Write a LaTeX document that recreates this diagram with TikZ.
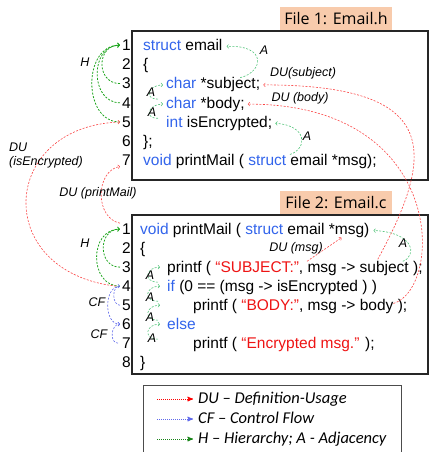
\documentclass[tikz,border=0pt]{standalone}
\usepackage{fontspec}
\setmainfont{Liberation Sans}
\newfontfamily\legendfont{Carlito}
\newfontfamily\tabfont{Open Sans}
\usetikzlibrary{arrows}
\definecolor{kwblue}{RGB}{50,100,235}
\definecolor{strred}{RGB}{238,20,20}
\definecolor{dured}{RGB}{250,70,70}
\definecolor{cfblue}{RGB}{95,105,235}
\definecolor{hgreen}{RGB}{30,165,30}
\definecolor{agreen}{RGB}{80,195,120}
\definecolor{tabpeach}{RGB}{248,203,172}
\newcommand{\kw}[1]{\textcolor{kwblue}{#1}}
\newcommand{\cstr}[1]{\textcolor{strred}{#1}}
\newcommand{\codesize}{\fontsize{15.5}{18}\selectfont}

\begin{document}
\begin{tikzpicture}[x=1pt,y=-1pt,>=stealth',
  lnum/.style={anchor=base east,font=\codesize,inner sep=2pt},
  code/.style={anchor=base west,font=\codesize,inner sep=0pt,text height=11pt,text depth=3pt},
  lab/.style={font=\fontsize{12.5}{14}\selectfont\itshape,inner sep=0pt},
  filebox/.style={draw=black!85,line width=1.1pt},
  tab/.style={fill=tabpeach,font=\tabfont\fontsize{16}{18}\selectfont,minimum width=112pt,minimum height=23pt,inner sep=0pt},
  du/.style={-to,dured,dash pattern=on 2pt off 1.5pt,line width=0.6pt},
  cf/.style={du,cfblue},
  hier/.style={du,hgreen,line width=0.8pt},
  adj/.style={du,agreen},
  leg/.style={anchor=west,font=\legendfont\itshape\fontsize{16.5}{19}\selectfont,inner sep=0pt,text height=11pt,text depth=3pt},
  legline/.style={-stealth',densely dotted,line width=1pt}]

  \useasboundingbox (0,0) rectangle (429,452);

  % the two files
  \draw[filebox] (132,31) rectangle (428,180);
  \node[tab] (tab1) at (336,18.5) {File 1: Email.h};
  \draw[filebox] (132,215) rectangle (428,374);
  \node[tab] (tab2) at (336,202.5) {File 2: Email.c};

  \foreach \k in {1,...,7} \node[lnum] (n\k) at (133,31.3+19.2*\k) {\k};
  \foreach \k in {1,...,8} \node[lnum] (m\k) at (133,215.5+19*\k) {\k};

  \node[code] (c1) at (143,50.5) {\kw{struct} email};
  \node[code] (c2) at (143,69.7) {\{};
  \node[code] (c3) at (166,88.9) {\kw{char} *subject;};
  \node[code] (c4) at (166,108.1) {\kw{char} *body;};
  \node[code] (c5) at (166,127.3) {\kw{int} isEncrypted;};
  \node[code] (c6) at (143,146.5) {\};};
  \node[code] (c7) at (143,165.7) {\kw{void} printMail ( \kw{struct} email *msg);};

  \node[code] (d1) at (140,234.5) {\kw{void} printMail ( \kw{struct} email *msg)};
  \node[code] (d2) at (140,253.5) {\{};
  \node[code] (d3) at (167,272.5) {printf ( \cstr{“SUBJECT:”}, msg -> subject );};
  \node[code] (d4) at (167,291.5) {\kw{if} (0 == (msg -> isEncrypted ) )};
  \node[code] (d5) at (193,310.5) {printf ( \cstr{“BODY:”}, msg -> body );};
  \node[code] (d6) at (167,329.5) {\kw{else}};
  \node[code] (d7) at (193,348.5) {printf ( \cstr{“Encrypted msg.”} );};
  \node[code] (d8) at (140,367.5) {\}};

  % hierarchy
  \draw[hier] (n3.west) to[out=180,in=180,looseness=1.6] (n1.west);
  \draw[hier] (n4.west) to[out=180,in=180,looseness=1.35] (n1.west);
  \draw[hier] (n5.west) to[out=180,in=180,looseness=1.25] (n1.west);
  \node[lab] (h1) at (85,62) {H};
  \draw[hier] (m3.west) to[out=180,in=180,looseness=1.5] (m1.west);
  \draw[hier] (m4.west) to[out=180,in=180,looseness=1.4] (m1.west);
  \node[lab] (h2) at (85,243) {H};

  % adjacency
  \draw[adj] ([xshift=-8pt,yshift=5pt]c4.west) to[out=180,in=180,looseness=2.5] ([xshift=-3pt]c3.west);
  \draw[adj] ([xshift=-8pt,yshift=5pt]c5.west) to[out=180,in=180,looseness=2.5] ([xshift=-3pt]c4.west);
  \node[lab] (a1) at (151,92) {A};
  \node[lab] (a2) at (152,112) {A};
  \draw[adj] ([xshift=27pt]c3.north) .. controls +(24,-6) and +(40,-2) .. ([xshift=4pt]c1.east);
  \node[lab] (a3) at (264,50) {A};
  \draw[adj] ([xshift=30pt]c7.north) .. controls +(18,-6) and +(32,2) .. ([xshift=3pt]c5.east);
  \node[lab] (a4) at (307,136) {A};
  \draw[adj] ([xshift=25pt,yshift=4pt]m4.east) to[out=180,in=180,looseness=2.5] ([xshift=27pt]m3.east);
  \draw[adj] ([xshift=25pt,yshift=4pt]m5.east) to[out=180,in=180,looseness=2.5] ([xshift=27pt]m4.east);
  \draw[adj] ([xshift=25pt,yshift=4pt]m6.east) to[out=180,in=180,looseness=2.5] ([xshift=27pt]m5.east);
  \draw[adj] ([xshift=25pt,yshift=4pt]m7.east) to[out=180,in=180,looseness=2.5] ([xshift=27pt]m6.east);
  \node[lab] (a5) at (150,275) {A};
  \node[lab] (a6) at (150,297) {A};
  \node[lab] (a7) at (150,317) {A};
  \node[lab] (a8) at (152,338) {A};
  \draw[adj] ([xshift=-20pt]d3.north east) .. controls +(14,-5) and +(42,2) .. ([xshift=4pt]d1.east);
  \node[lab] (a9) at (403,243) {A};

  % control flow
  \draw[cf] (m5.west) to[out=180,in=180,looseness=1.1] (m4.west);
  \draw[cf] (m4.west) to[out=180,in=180,looseness=1.1] (m6.west);
  \draw[cf] ([xshift=-2pt]m7.west) to[out=180,in=180,looseness=1.2] (m6.west);
  \node[lab] (cf1) at (97,302) {CF};
  \node[lab] (cf2) at (99,334) {CF};

  % definition-usage
  \draw[du] ([xshift=-45pt,yshift=2pt]d3.north east) .. controls +(60,-110) and +(175,0) .. ([xshift=3pt]c3.east);
  \node[lab] (dusub) at (303,73) {DU(subject)};
  \draw[du] ([xshift=-14pt,yshift=3pt]d5.east) .. controls +(50,-15) and +(200,0) .. ([xshift=3pt]c4.east);
  \node[lab] (dubody) at (300,98) {DU (body)};
  \draw[du] ([xshift=-4pt]m4.west) .. controls +(-125,-15) and +(-120,4) .. (n5.west);
  \node[lab,align=left,anchor=west] (duenc) at (9,155) {DU\\(isEncrypted)};
  \draw[du] ([yshift=6pt]m1.west) .. controls +(-25,-5) and +(-25,5) .. ([yshift=-6pt]n7.west);
  \node[lab] (dupm) at (98,193) {DU (printMail)};
  \draw[du] ([xshift=140pt]d3.north west) -- ([xshift=-28pt]d1.south east);
  \node[lab] (dumsg) at (296,248) {DU (msg)};

  % legend
  \draw[line width=0.6pt,black!70] (143,452) |- (401,385) -- (401,452);
  \node[leg] (ldu) at (198,399) {DU – Definition-Usage};
  \node[leg] (lcf) at (198,419) {CF – Control Flow};
  \node[leg] (lh) at (198,439) {H – Hierarchy; A - Adjacency};
  \draw[legline,red] ([xshift=-41pt]ldu.west) -- ([xshift=-5pt]ldu.west);
  \draw[legline,cfblue] ([xshift=-41pt]lcf.west) -- ([xshift=-5pt]lcf.west);
  \draw[legline,hgreen!80!black] ([xshift=-41pt]lh.west) -- ([xshift=-5pt]lh.west);

\end{tikzpicture}
\end{document}
